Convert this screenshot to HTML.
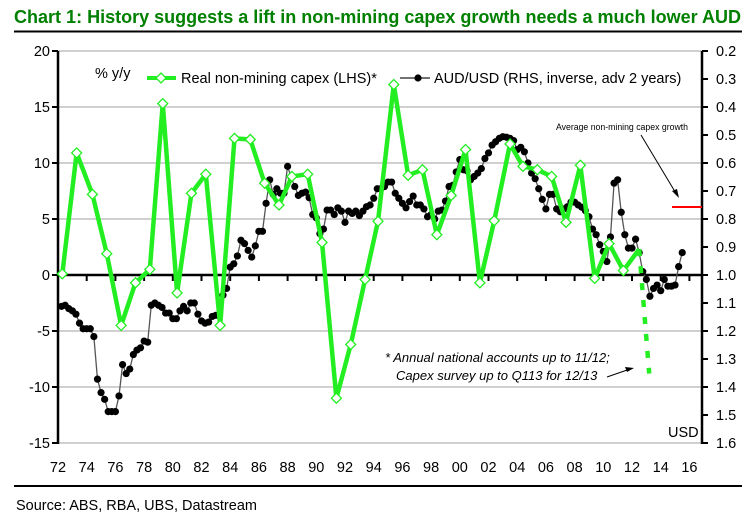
<!DOCTYPE html>
<html><head><meta charset="utf-8"><style>
html,body{margin:0;padding:0;background:#fff;width:746px;height:518px;overflow:hidden}
svg{display:block;font-family:"Liberation Sans",Arial,sans-serif}
</style></head><body>
<svg id="chart" width="746" height="518" viewBox="0 0 746 518">
<text x="14" y="23" font-size="18" font-weight="bold" fill="#008000" textLength="727" lengthAdjust="spacingAndGlyphs">Chart 1: History suggests a lift in non-mining capex growth needs a much lower AUD</text>
<line x1="14" y1="31.5" x2="742" y2="31.5" stroke="#000" stroke-width="2"/>
<line x1="14" y1="486" x2="742" y2="486" stroke="#000" stroke-width="2"/>
<text x="16" y="510" font-size="14.5" fill="#000">Source: ABS, RBA, UBS, Datastream</text>
<g id="grid"></g><g id="axes"></g><g id="series"></g>
<text x="95" y="78" font-size="14.5">% y/y</text>
<g>
<line x1="147" y1="78" x2="176" y2="78" stroke="#22ee22" stroke-width="4"/>
<path d="M161,73 L166,78 L161,83 L156,78Z" fill="#fff" stroke="#22ee22" stroke-width="1.3"/>
<text x="181" y="83" font-size="14.5">Real non-mining capex (LHS)*</text></g>
<g>
<line x1="400" y1="78" x2="430" y2="78" stroke="#444" stroke-width="1.5"/>
<circle cx="418" cy="78" r="3.6" fill="#000"/>
<text x="434" y="83" font-size="14.5">AUD/USD (RHS, inverse, adv 2 years)</text></g>
<text x="556" y="130" font-size="9" textLength="132" lengthAdjust="spacingAndGlyphs">Average non-mining capex growth</text>
<line x1="641" y1="135" x2="677" y2="195" stroke="#000" stroke-width="1"/>
<path d="M679,198 L672,191 L677,189Z" fill="#000"/>
<line x1="672" y1="207" x2="702" y2="207" stroke="#ff0000" stroke-width="2"/>
<text x="385" y="362" font-size="13" font-style="italic">* Annual national accounts up to 11/12;</text>
<text x="396" y="380" font-size="13" font-style="italic">Capex survey up to Q113 for 12/13</text>
<line x1="607" y1="377" x2="630" y2="369" stroke="#000" stroke-width="1"/>
<path d="M634,368 L625,367 L627,372Z" fill="#000"/>
<text x="668" y="437" font-size="14.5">USD</text>
</svg>
<script>
const leftTicks=[20,15,10,5,0,-5,-10,-15];
const rightTicks=[0.2,0.3,0.4,0.5,0.6,0.7,0.8,0.9,1.0,1.1,1.2,1.3,1.4,1.5,1.6];
const xTickYears=[1972,1974,1976,1978,1980,1982,1984,1986,1988,1990,1992,1994,1996,1998,2000,2002,2004,2006,2008,2010,2012,2014,2016];
const capexYears=[1972.3,1973.3,1974.4,1975.4,1976.4,1977.4,1978.4,1979.3,1980.3,1981.3,1982.3,1983.3,1984.3,1985.4,1986.4,1987.4,1988.3,1989.4,1990.4,1991.4,1992.4,1993.4,1994.3,1995.4,1996.4,1997.4,1998.4,1999.4,2000.4,2001.4,2002.4,2003.5,2004.4,2005.4,2006.4,2007.4,2008.4,2009.4,2010.4,2011.4,2012.5];
const capexValues=[0.1,10.9,7.2,1.9,-4.5,-0.7,0.5,15.3,-1.6,7.3,9.0,-4.5,12.2,12.1,8.2,6.25,8.8,9.0,2.9,-11.0,-6.2,-0.4,4.8,17.0,8.9,9.4,3.6,7.1,11.2,-0.7,4.85,11.7,9.7,9.4,8.8,4.7,9.8,-0.3,2.8,0.4,2.3];
const surveyYears=[2012.5,2013.2];
const surveyValues=[2.3,-8.8];
const audStart=1972.25;
const audStep=0.25;
const audValues=[1.112,1.108,1.12,1.128,1.14,1.172,1.192,1.192,1.192,1.22,1.372,
1.42,1.444,1.488,1.488,1.488,1.432,1.32,1.352,1.336,1.284,1.268,1.26,1.236,1.24,1.108,1.1,1.108,1.116,1.136,1.136,1.156,1.156,1.128,1.112,1.128,1.1,1.1,1.14,1.164,1.172,1.168,1.148,1.144,1.144,1.072,1.048,0.972,
0.96,0.932,0.876,0.888,0.912,0.936,0.896,0.844,0.844,0.744,0.66,0.712,0.692,0.708,0.708,0.612,0.652,0.684,0.716,0.708,0.704,0.724,0.784,0.796,0.852,0.836,0.768,0.768,0.784,0.76,0.772,0.812,0.772,0.78,0.772,0.788,0.772,0.756,0.75,0.726,0.692,0.692,0.684,0.668,0.668,0.708,0.726,0.744,0.76,0.738,0.718,0.75,0.75,0.764,0.792,0.784,0.8,0.772,0.768,0.736,0.684,0.68,0.632,0.588,0.624,0.628,0.66,
0.648,0.636,0.62,0.584,0.564,0.536,0.524,0.512,0.506,0.508,0.512,0.52,0.552,0.544,0.56,0.6,0.636,0.656,0.692,0.73,0.764,0.712,0.712,0.764,0.774,0.764,0.756,0.74,0.74,0.75,0.758,0.77,0.792,0.836,0.856,0.892,0.916,0.952,0.864,0.672,0.66,0.776,0.856,0.904,0.904,0.872,0.92,0.988,1.016,1.076,1.048,1.036,1.056,1.016,1.04,1.04,1.036,0.97,0.92];

const NS='http://www.w3.org/2000/svg';
const X0=58,X1=702,YT=51,YB=443;
function xs(yr){return X0+(yr-1972)*14.35;}
function yl(v){return 275-v*11.2;}
function yr(v){return YT+(v-0.2)/1.4*(YB-YT);}
function mk(tag,attrs,parent){const e=document.createElementNS(NS,tag);for(const k in attrs)e.setAttribute(k,attrs[k]);parent.appendChild(e);return e;}
const grid=document.getElementById('grid'),axes=document.getElementById('axes'),series=document.getElementById('series');
leftTicks.forEach(v=>{
  if(v!==0){const g=mk('line',{x1:X0,x2:X1,y1:yl(v),y2:yl(v),stroke:'#c0c0c0','stroke-width':1.6},grid);
  
  }
  const t=mk('line',{x1:X0-6,x2:X0,y1:yl(v),y2:yl(v),stroke:'#000','stroke-width':2},axes);
  
  
  const l=mk('text',{x:50,y:yl(v)+5,'text-anchor':'end','font-size':14.5},axes);
  l.textContent=v;
  
  
});
rightTicks.forEach(v=>{
  const t=mk('line',{x1:X1,x2:X1+6,y1:yr(v),y2:yr(v),stroke:'#000','stroke-width':2},axes);
  
  
  const l=mk('text',{x:716,y:yr(v)+5,'font-size':14.5},axes);
  l.textContent=v.toFixed(1);
  
  
});
xTickYears.forEach(y=>{
  const t=mk('line',{x1:xs(y),x2:xs(y),y1:275,y2:281,stroke:'#000','stroke-width':2},axes);
  
  
  const l=mk('text',{x:xs(y),y:472,'text-anchor':'middle','font-size':14.5},axes);
  l.textContent=String(y).slice(2);
  
  
});
let a=mk('line',{x1:X0,x2:X0,y1:YT,y2:YB+1,stroke:'#000','stroke-width':2.5},axes);


a=mk('line',{x1:X1,x2:X1,y1:YT,y2:YB+1,stroke:'#000','stroke-width':2.5},axes);


a=mk('line',{x1:X0,x2:X1,y1:275,y2:275,stroke:'#000','stroke-width':2.5},axes);


let pts=audValues.map((v,i)=>[xs(audStart+i*audStep),yr(v)]);
let p=mk('polyline',{points:pts.map(q=>q.join(',')).join(' '),fill:'none',stroke:'#555','stroke-width':1.3},series);


pts.forEach(q=>{const c=mk('circle',{cx:q[0],cy:q[1],r:3.6,fill:'#000'},series);
  
  });
let cp=capexYears.map((y,i)=>[xs(y),yl(capexValues[i])]);
p=mk('polyline',{points:cp.map(q=>q.join(',')).join(' '),fill:'none',stroke:'#22ee22','stroke-width':4.5,'stroke-linejoin':'round'},series);


p=mk('polyline',{points:surveyYears.map((y,i)=>xs(y)+','+yl(surveyValues[i])).join(' '),fill:'none',stroke:'#22ee22','stroke-width':4.5,'stroke-dasharray':'7,10'},series);


cp.slice(0,-1).forEach(q=>{const d=mk('path',{d:`M${q[0]},${q[1]-5} L${q[0]+5},${q[1]} L${q[0]},${q[1]+5} L${q[0]-5},${q[1]}Z`,fill:'#fff',stroke:'#22ee22','stroke-width':1.3},series);
  
  });
</script>
</body></html>
